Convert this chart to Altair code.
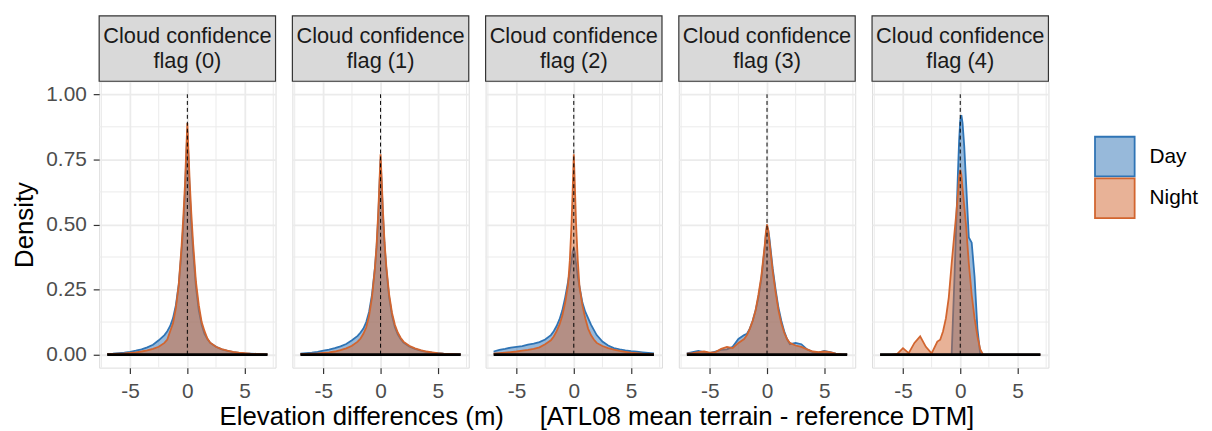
import altair as alt
import pandas as pd

# ---------------- data ----------------
X = [-7, -6.5, -6, -5.5, -5, -4.5, -4, -3.5, -3, -2.5, -2,
     -1.75, -1.5, -1.25, -1, -0.75,
     -0.5, -0.35, -0.2, -0.1,
     0,
     0.1, 0.2, 0.35, 0.5,
     0.75, 1, 1.25, 1.5, 1.75,
     2, 2.5, 3, 3.5, 4, 4.5, 5, 5.5, 6, 6.5, 7]

DAY_0 = [0.003, 0.004, 0.006, 0.008, 0.011, 0.015, 0.02, 0.028, 0.038, 0.055, 0.075,
         0.09, 0.11, 0.14, 0.19, 0.27,
         0.4, 0.5, 0.63, 0.75,
         0.86,
         0.75, 0.63, 0.5, 0.4,
         0.26, 0.17, 0.115, 0.08, 0.06,
         0.045, 0.03, 0.02, 0.014, 0.01, 0.007, 0.005, 0.004, 0.003, 0.002, 0.001]
NIGHT_0 = [0.002, 0.003, 0.004, 0.005, 0.007, 0.009, 0.012, 0.016, 0.022, 0.03, 0.045,
           0.058, 0.09, 0.12, 0.18, 0.27,
           0.42, 0.53, 0.66, 0.78,
           0.89,
           0.78, 0.67, 0.54, 0.43,
           0.28, 0.19, 0.125, 0.09, 0.062,
           0.046, 0.03, 0.021, 0.015, 0.011, 0.008, 0.006, 0.004, 0.003, 0.002, 0.001]

DAY_1 = [0.004, 0.006, 0.008, 0.011, 0.015, 0.019, 0.025, 0.032, 0.041, 0.055, 0.072,
         0.085, 0.1, 0.125, 0.165, 0.23,
         0.33, 0.41, 0.53, 0.64,
         0.75,
         0.65, 0.54, 0.42, 0.33,
         0.22, 0.15, 0.105, 0.078, 0.06,
         0.046, 0.031, 0.022, 0.015, 0.011, 0.008, 0.006, 0.004, 0.003, 0.002, 0.001]
NIGHT_1 = [0.002, 0.003, 0.004, 0.005, 0.007, 0.009, 0.012, 0.017, 0.024, 0.034, 0.05,
           0.062, 0.08, 0.105, 0.15, 0.22,
           0.33, 0.42, 0.55, 0.66,
           0.77,
           0.67, 0.56, 0.43, 0.34,
           0.23, 0.16, 0.115, 0.085, 0.065,
           0.05, 0.034, 0.024, 0.017, 0.012, 0.009, 0.006, 0.004, 0.003, 0.002, 0.001]

DAY_2 = [0.012, 0.018, 0.022, 0.027, 0.03, 0.033, 0.038, 0.042, 0.048, 0.058, 0.075,
         0.09, 0.11, 0.135, 0.17, 0.22,
         0.28, 0.32, 0.36, 0.395,
         0.41,
         0.39, 0.35, 0.3, 0.26,
         0.2, 0.165, 0.14, 0.115, 0.095,
         0.075, 0.05, 0.035, 0.025, 0.02, 0.016, 0.013, 0.011, 0.009, 0.007, 0.005]
NIGHT_2 = [0.004, 0.006, 0.008, 0.01, 0.012, 0.015, 0.018, 0.022, 0.028, 0.04, 0.055,
           0.07, 0.09, 0.115, 0.15, 0.2,
           0.27, 0.36, 0.5, 0.63,
           0.77,
           0.64, 0.5, 0.36, 0.26,
           0.19, 0.14, 0.1, 0.075, 0.058,
           0.045, 0.033, 0.025, 0.019, 0.014, 0.011, 0.008, 0.006, 0.004, 0.003, 0.002]

DAY_3 = [0.005, 0.01, 0.014, 0.01, 0.006, 0.012, 0.018, 0.02, 0.03, 0.06, 0.075,
         0.08, 0.1, 0.13, 0.17, 0.22,
         0.29, 0.35, 0.41, 0.46,
         0.49,
         0.48, 0.45, 0.39, 0.33,
         0.25, 0.18, 0.13, 0.09, 0.06,
         0.04, 0.045, 0.04, 0.02, 0.01, 0.008, 0.014, 0.01, 0.004, 0.002, 0.001]
NIGHT_3 = [0.004, 0.006, 0.01, 0.012, 0.008, 0.01, 0.022, 0.03, 0.025, 0.045, 0.06,
           0.075, 0.1, 0.13, 0.17, 0.23,
           0.3, 0.36, 0.42, 0.47,
           0.5,
           0.48, 0.44, 0.38, 0.32,
           0.24, 0.17, 0.12, 0.085, 0.06,
           0.045, 0.035, 0.03, 0.02, 0.012, 0.01, 0.012, 0.01, 0.004, 0.002, 0.001]

DAY_4 = [0, 0, 0, 0, 0, 0, 0, 0, 0, 0, 0,
         0, 0, 0, 0, 0,
         0.3, 0.5, 0.7, 0.82,
         0.9,
         0.92, 0.89, 0.8, 0.67,
         0.45, 0.43, 0.3, 0.1, 0,
         0, 0, 0, 0, 0, 0, 0, 0, 0, 0, 0]
NIGHT_4 = [0, 0, 0, 0.003, 0.025, 0.006, 0.045, 0.07, 0.03, 0.005, 0.05,
           0.057, 0.09, 0.14, 0.22, 0.35,
           0.47, 0.54, 0.62, 0.68,
           0.71,
           0.69, 0.64, 0.57, 0.5,
           0.35, 0.23, 0.14, 0.07, 0.02,
           0, 0, 0, 0, 0, 0, 0, 0, 0, 0, 0]

DAY = [DAY_0, DAY_1, DAY_2, DAY_3, DAY_4]
NIGHT = [NIGHT_0, NIGHT_1, NIGHT_2, NIGHT_3, NIGHT_4]
FLAGS = ["0", "1", "2", "3", "4"]
PERIODS = ["Day", "Night"]
COLORS = ["#2F74B5", "#D2652F"]

X_TICKS = [-5, 0, 5]
X_MINOR = [-7.5, -2.5, 2.5, 7.5]
Y_TICKS = [0, 0.25, 0.5, 0.75, 1.0]
Y_MINOR = [0.125, 0.375, 0.625, 0.875]
X_DOMAIN = [-7.7, 7.7]
Y_DOMAIN = [-0.05, 1.05]
BASE_X = [-7, 7]
BASE_Y = [0]
VLINE_X = [0]
VLINE_Y = [0, 1.0]

X_TITLE = "Elevation differences (m)\u00a0\u00a0\u00a0\u00a0\u00a0[ATL08 mean terrain - reference DTM]"

# ---------------- style ----------------
FONT = "Liberation Sans"
W, H, STRIP = 178, 289, 66
GRID = "#EBEBEB"
DARK = "#333333"
TICK_FS, STRIP_FS, TITLE_FS = 21, 22, 26


def panel(i):
    rows = []
    for x, d, n in zip(X, DAY[i], NIGHT[i]):
        rows.append({"x": x, "y": d, "Period": "Day"})
        rows.append({"x": x, "y": n, "Period": "Night"})
    df = pd.DataFrame(rows)

    xs = alt.Scale(domain=X_DOMAIN, nice=False, zero=False)
    ys = alt.Scale(domain=Y_DOMAIN, nice=False, zero=False)
    first = i == 0
    ytitle = "Density" if first else None
    xaxis = alt.Axis(values=X_TICKS, title=None, grid=True, gridColor=GRID,
                     gridWidth=1.8, domain=False, tickColor=DARK, tickSize=6,
                     tickWidth=1.2, labelFontSize=TICK_FS, labelColor="#4D4D4D",
                     labelPadding=7, labelFont=FONT, labelExpr="'' + datum.value")
    if first:
        yaxis = alt.Axis(values=Y_TICKS, format=".2f", grid=True, gridColor=GRID,
                         gridWidth=1.8, domain=False, tickColor=DARK, tickSize=6,
                         tickWidth=1.2, labelFontSize=TICK_FS, labelColor="#4D4D4D",
                         labelPadding=7, labelFont=FONT,
                         title=ytitle, titleFontSize=TITLE_FS, titleFont=FONT,
                         titleFontWeight="normal", titleColor="black", titlePadding=8)
    else:
        yaxis = alt.Axis(values=Y_TICKS, grid=True, gridColor=GRID, gridWidth=1.8,
                         domain=False, labels=False, ticks=False, title=None,
                         minExtent=0, maxExtent=0, offset=0)

    vminor = alt.Chart(pd.DataFrame({"x": X_MINOR})).mark_rule(
        color=GRID, strokeWidth=1).encode(x=alt.X("x:Q", scale=xs, axis=xaxis))
    hminor = alt.Chart(pd.DataFrame({"y": Y_MINOR})).mark_rule(
        color=GRID, strokeWidth=1).encode(y=alt.Y("y:Q", scale=ys, axis=yaxis))

    layers = [vminor, hminor]
    for p, c in zip(PERIODS, COLORS):
        src = alt.Chart(df).transform_filter(alt.datum.Period == p)
        layers.append(src.mark_area(color=c, fillOpacity=0.5).encode(
            x=alt.X("x:Q", title=None), y=alt.Y("y:Q", title=ytitle, stack=None)))
        layers.append(src.mark_line(color=c, strokeWidth=1.8).encode(
            x=alt.X("x:Q", title=None), y=alt.Y("y:Q", title=ytitle)))

    vline = alt.Chart(pd.DataFrame({"x": VLINE_X, "y": [VLINE_Y[0]], "y2": [VLINE_Y[1]]})).mark_rule(
        color="black", strokeDash=[4, 3], strokeWidth=1).encode(
        x=alt.X("x:Q", title=None), y=alt.Y("y:Q", title=ytitle), y2="y2:Q")
    base = alt.Chart(pd.DataFrame({"x": [BASE_X[0]], "x2": [BASE_X[1]], "y": BASE_Y})).mark_rule(
        color="black", strokeWidth=3).encode(
        x=alt.X("x:Q", title=None), x2="x2:Q", y=alt.Y("y:Q", title=ytitle))

    one = pd.DataFrame({"k": [0]})
    strip = alt.Chart(one).mark_rect(fill="#D9D9D9", stroke=DARK, strokeWidth=1.2).encode(
        x=alt.value(0), x2=alt.value(W), y=alt.value(-STRIP), y2=alt.value(0))
    label = alt.Chart(one).mark_text(fontSize=STRIP_FS, font=FONT, color="#1A1A1A",
                                     baseline="middle", align="center", lineHeight=25).encode(
        x=alt.value(W / 2), y=alt.value(-STRIP / 2 - 12.5),
        text=alt.value(["Cloud confidence", f"flag ({FLAGS[i]})"]))

    layers += [vline, base, strip, label]
    return alt.layer(*layers).properties(width=W, height=H)


panels = [panel(i) for i in range(5)]

leg_df = pd.DataFrame({"Period": PERIODS})
leg_y = alt.Y("Period:N", scale=alt.Scale(type="point", domain=PERIODS, range=[76, 118], padding=0),
              axis=None)
leg_sq = alt.Chart(leg_df).mark_square(size=1600, fillOpacity=0.5, strokeWidth=1.8, opacity=1).encode(
    y=leg_y,
    fill=alt.Fill("Period:N", scale=alt.Scale(domain=PERIODS, range=COLORS), legend=None),
    stroke=alt.Stroke("Period:N", scale=alt.Scale(domain=PERIODS, range=COLORS), legend=None))
leg_tx = alt.Chart(leg_df).mark_text(align="left", baseline="middle", dx=35, fontSize=TICK_FS,
                                     font=FONT, color="black").encode(
    y=leg_y, text="Period:N")
legend = alt.layer(leg_sq, leg_tx).properties(
    width=104, height=200, view=alt.ViewBackground(strokeOpacity=0))

chart = alt.hconcat(*panels, legend, spacing=13).properties(
    title=alt.TitleParams(X_TITLE, orient="bottom", anchor="middle", fontSize=TITLE_FS,
                          font=FONT, fontWeight="normal", color="black", offset=2, dx=-8),
    padding={"left": 3, "right": 5, "top": 4, "bottom": 0},
).configure_view(stroke=DARK, strokeWidth=1.2).configure(background="white")

chart.save("out.html", embed_options={"renderer": "svg", "actions": False})
